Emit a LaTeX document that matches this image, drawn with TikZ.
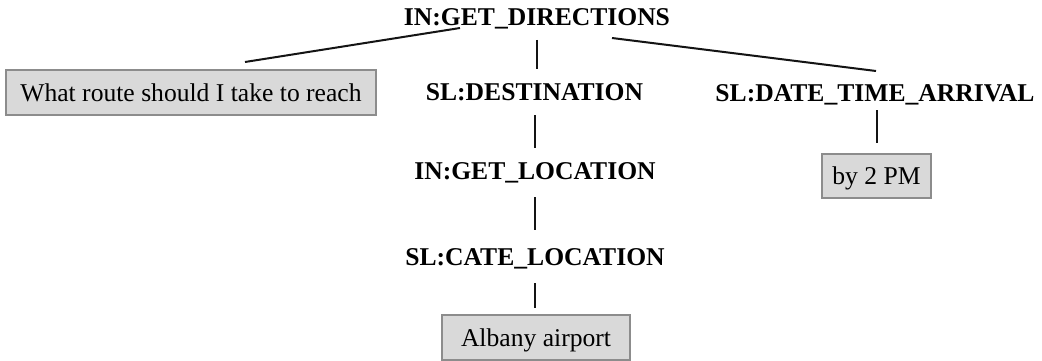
\documentclass[tikz,border=0pt]{standalone}
\usepackage{fontspec}
\setmainfont{Liberation Serif}
\begin{document}
\begin{tikzpicture}[x=1pt,y=-1pt,
  lbl/.style={font=\fontsize{25.6}{30}\selectfont\bfseries, inner sep=0pt, outer sep=0pt,
    minimum height=46pt, text height=17pt, text depth=0pt},
  leaf/.style={draw=black!45, line width=1.4pt, fill=black!15, inner sep=0pt, outer sep=0pt,
    font=\fontsize{25.6}{30}\selectfont, text height=17pt, text depth=0pt},
  edge/.style={line width=2pt, draw=black!92}]
\useasboundingbox (0,0) rectangle (1042,361);
\node[lbl] (top) at (537,17) {IN:GET\_DIRECTIONS};
\node[leaf, minimum width=370pt, minimum height=45pt] (what) at (191,92.5) {What route should I take to reach};
\node[lbl] (dest) at (534.5,92) {SL:DESTINATION};
\node[lbl] (date) at (875,93) {SL:DATE\_TIME\_ARRIVAL};
\node[leaf, minimum width=109pt, minimum height=44pt] (by2) at (876.5,176) {by 2 PM};
\node[lbl] (loc) at (535,171) {IN:GET\_LOCATION};
\node[lbl] (cate) at (535,257) {SL:CATE\_LOCATION};
\node[leaf, minimum width=188pt, minimum height=45pt] (albany) at (536,337.5) {Albany airport};
\draw[edge] ([shift={(-77,11)}]top.center) -- ([shift={(54,-30.5)}]what.center);
\draw[edge] ([shift={(75,21)}]top.center) -- ([shift={(1,-22)}]date.center);
\draw[edge] (top.south) -- (top.south |- dest.north);
\draw[edge] (loc.north |- dest.south) -- (loc.north);
\draw[edge, shorten <=3pt, shorten >=4pt] (loc.south) -- (cate.north);
\draw[edge, shorten <=3pt, shorten >=7pt] (cate.south) -- (cate.south |- albany.north);
\draw[edge, shorten <=-6pt, shorten >=11pt] (by2.north |- date.south) -- (by2.north);
\end{tikzpicture}
\end{document}
